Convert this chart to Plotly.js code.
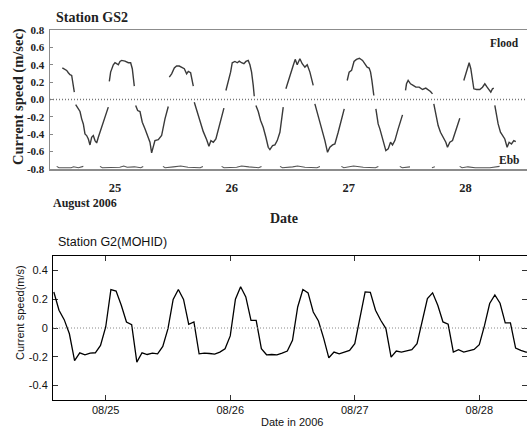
<!DOCTYPE html>
<html>
<head>
<meta charset="utf-8">
<script src="https://cdn.plot.ly/plotly-3.0.1.min.js"></script>
<style>html,body{margin:0;padding:0;background:#fff;}#chart{width:527px;height:428px;}</style>
</head>
<body>
<div id="chart"></div>
<script>
// ---- Observed (Station GS2), hours after 2006-08-25 00:00, null = gap
const obsHours = [
 -10.81,-10.40,-9.92,-9.58,-9.24,-8.89,-8.55,-8.35,null,
 -8.07,-7.53,-7.18,-6.84,-6.50,-6.16,-5.82,-5.47,-5.13,-4.79,-4.45,-4.10,-3.76,-3.42,-2.73,-2.05,-1.37,null,
 -1.16,-0.89,-0.34,0.00,0.34,0.69,1.03,1.37,2.06,2.74,3.22,3.56,3.97,null,
 4.25,4.66,5.14,5.61,6.16,6.71,7.19,7.53,7.87,8.21,8.90,9.58,10.27,10.95,null,
 11.16,11.64,12.19,12.66,13.21,13.69,14.24,14.72,15.06,15.54,16.09,null,
 16.29,16.77,17.45,18.14,18.82,19.30,19.71,20.20,20.73,21.42,21.90,22.38,null,
 22.79,23.27,23.75,24.09,24.64,25.12,25.53,26.00,26.48,26.90,27.37,27.72,28.06,28.40,28.61,null,
 28.95,29.43,29.91,30.45,31.00,31.48,31.82,32.37,32.85,33.33,33.88,34.56,null,
 35.11,35.59,36.07,36.61,37.02,37.43,37.98,38.46,39.01,39.49,40.04,40.72,null,
 41.06,41.54,42.09,42.64,43.12,43.66,44.14,44.69,45.17,45.85,46.54,47.09,null,
 47.70,48.10,48.60,49.10,49.60,50.20,50.85,51.33,51.80,52.20,52.50,52.77,53.17,null,
 53.59,54.06,54.41,54.75,55.23,55.64,56.12,56.60,57.01,57.49,58.17,59.06,null,
 59.68,59.88,60.22,60.70,61.25,61.80,62.48,63.17,63.85,64.33,64.81,65.22,null,
 65.49,65.90,66.38,66.86,67.41,67.96,68.30,68.78,69.33,69.81,70.28,70.83,null,
 71.65,72.06,72.41,72.75,73.09,73.43,73.71,74.25,74.94,75.49,75.97,76.44,76.86,77.20,77.54,77.81,null,
 78.02,78.36,78.70,79.18,79.59,80.07,80.55,80.96,81.44,81.92,82.33
];
const obsSpeed = [
 0.365,0.354,0.335,0.308,0.285,0.277,0.181,0.085,null,
 -0.058,-0.108,-0.138,-0.223,-0.281,-0.396,-0.415,-0.454,-0.523,-0.435,-0.415,-0.473,-0.500,-0.435,-0.319,-0.204,-0.088,null,
 0.208,0.315,0.400,0.423,0.412,0.400,0.438,0.450,0.442,0.423,0.423,0.354,0.154,null,
 -0.069,-0.127,-0.138,-0.262,-0.338,-0.435,-0.492,-0.615,-0.531,-0.473,-0.462,-0.415,-0.223,-0.081,null,
 0.258,0.296,0.362,0.385,0.385,0.373,0.354,0.296,0.323,0.308,0.154,null,
 -0.031,-0.127,-0.262,-0.370,-0.460,-0.538,-0.473,-0.492,-0.454,-0.300,-0.185,-0.100,null,
 0.104,0.200,0.315,0.423,0.438,0.423,0.442,0.423,0.412,0.438,0.450,0.400,0.315,0.162,0.038,null,
 -0.069,-0.138,-0.242,-0.319,-0.435,-0.550,-0.577,-0.531,-0.523,-0.473,-0.377,-0.088,null,
 0.123,0.219,0.315,0.392,0.462,0.400,0.469,0.412,0.373,0.400,0.315,0.162,null,
 -0.050,-0.146,-0.262,-0.377,-0.473,-0.608,-0.550,-0.523,-0.512,-0.377,-0.223,-0.108,null,
 0.219,0.315,0.335,0.438,0.462,0.475,0.450,0.412,0.373,0.362,0.315,0.219,0.046,null,
 -0.108,-0.281,-0.338,-0.415,-0.512,-0.588,-0.569,-0.492,-0.523,-0.473,-0.338,-0.177,null,
 0.104,0.181,0.219,0.181,0.162,0.142,0.142,0.115,0.131,0.115,0.092,0.065,null,
 -0.050,-0.185,-0.300,-0.377,-0.435,-0.492,-0.550,-0.492,-0.473,-0.396,-0.300,-0.215,null,
 0.219,0.296,0.373,0.423,0.354,0.219,0.123,0.115,0.115,0.142,0.181,0.142,0.104,0.085,0.123,0.131,null,
 -0.069,-0.204,-0.281,-0.377,-0.415,-0.454,-0.550,-0.492,-0.512,-0.473,-0.485
];
// ---- faint trace clipped at bottom of the GS2 panel
const baseHours = [
 -11.97,-11.5,-9.0,-8.5,-7.5,-6.5,null,
 -3.08,-2.6,1.0,1.8,2.5,4.0,5.3,5.81,null,
 9.85,10.3,12.0,13.5,15.0,17.5,18.07,null,
 21.9,22.4,25.0,26.0,27.5,29.5,30.1,null,
 33.9,34.4,36.5,37.5,39.0,41.5,42.1,null,
 46.5,47.0,49.0,51.0,53.5,54.1,null,
 58.5,59.0,60.6,null,
 65.1,65.7,null,
 70.8,71.3,72.5,74.0,77.0,78.4,79.0
];
const baseSpeed = [
 -0.77,-0.785,-0.785,-0.775,-0.785,-0.77,null,
 -0.77,-0.785,-0.78,-0.765,-0.78,-0.775,-0.785,-0.77,null,
 -0.77,-0.785,-0.775,-0.765,-0.78,-0.785,-0.77,null,
 -0.77,-0.785,-0.78,-0.765,-0.775,-0.785,-0.77,null,
 -0.77,-0.785,-0.775,-0.765,-0.78,-0.785,-0.77,null,
 -0.77,-0.785,-0.765,-0.78,-0.785,-0.77,null,
 -0.77,-0.785,-0.775,null,
 -0.785,-0.775,null,
 -0.77,-0.785,-0.775,-0.785,-0.785,-0.78,-0.77
];
// ---- Model (Station G2, MOHID), hourly, hours after 2006-08-25 00:00
const modelHours = [-10,-9,-8,-7,-6,-5,-4,-3,-2,-1,0,1,2,3,4,5,6,7,8,9,10,11,12,13,14,15,16,17,18,19,20,
 21,22,23,24,25,26,27,28,29,30,31,32,33,34,35,36,37,38,39,40,41,42,43,44,45,46,47,48,49,50,
 51,52,53,54,55,56,57,58,59,60,61,62,63,64,65,66,67,68,69,70,71,72,73,74,75,76,77,78,79,80,81,82];
const modelSpeed = [0.250,0.123,0.058,-0.040,-0.226,-0.172,-0.186,-0.174,-0.172,-0.121,
 0.007,0.267,0.256,0.158,0.042,0.023,-0.237,-0.172,-0.184,-0.174,
 -0.179,-0.128,-0.005,0.198,0.267,0.198,0.026,0.042,-0.179,-0.174,
 -0.177,-0.181,-0.167,-0.144,-0.055,0.200,0.286,0.216,0.053,0.053,
 -0.144,-0.186,-0.184,-0.186,-0.174,-0.160,-0.086,0.146,0.267,0.244,
 0.111,0.049,-0.070,-0.207,-0.167,-0.179,-0.167,-0.156,-0.109,0.077,
 0.251,0.248,0.123,0.054,-0.004,-0.202,-0.160,-0.167,-0.160,-0.151,
 -0.109,0.042,0.205,0.244,0.158,0.042,0.026,-0.167,-0.151,-0.167,
 -0.156,-0.149,-0.116,0.016,0.170,0.230,0.172,0.035,0.035,-0.140,
 -0.156,-0.167,-0.170];
const dayTicks = [25,26,27,28];
const topTickText = ['25','26','27','28'];
const botTickText = ['08/25','08/26','08/27','08/28'];
const topYTicks = [-0.8,-0.6,-0.4,-0.2,0,0.2,0.4,0.6,0.8];
const topYText = ['-0.8','-0.6','-0.4','-0.2','0.0','0.2','0.4','0.6','0.8'];
const botYTicks = [-0.4,-0.2,0,0.2,0.4];
const botYText = ['-0.4','-0.2','0','0.2','0.4'];

const toDay = h => (h === null ? null : 25 + h / 24);
const W = 527, H = 428;
const px = v => v / W, py = v => 1 - v / H;
const serif = 'Liberation Serif, Times New Roman, serif';
const sans = 'Liberation Sans, Arial, sans-serif';

const traces = [
  {x: obsHours.map(toDay), y: obsSpeed, xaxis: 'x', yaxis: 'y', mode: 'lines',
   line: {color: '#3a3a3a', width: 1.4}, connectgaps: false, hoverinfo: 'skip'},
  {x: baseHours.map(toDay), y: baseSpeed, xaxis: 'x', yaxis: 'y', mode: 'lines',
   line: {color: '#555', width: 1.1}, connectgaps: false, hoverinfo: 'skip'},
  {x: modelHours.map(toDay), y: modelSpeed, xaxis: 'x2', yaxis: 'y2', mode: 'lines',
   line: {color: '#000', width: 1.3}, hoverinfo: 'skip'}
];

const layout = {
  width: W, height: H, margin: {l: 0, r: 0, t: 0, b: 0},
  paper_bgcolor: '#fff', plot_bgcolor: '#fff', showlegend: false,
  xaxis: {domain: [px(50), px(526.5)], range: [24.444, 28.522], anchor: 'y',
    tickvals: dayTicks, ticktext: topTickText, ticks: '', showgrid: false, zeroline: false,
    showline: true, mirror: true, linecolor: '#8c8c8c', linewidth: 1.5,
    tickfont: {family: serif, size: 12.5, color: '#222', weight: 'bold'}, ticklabelstandoff: 6},
  yaxis: {domain: [py(169), py(30)], range: [-0.8, 0.8], anchor: 'x',
    tickvals: topYTicks, ticktext: topYText, ticks: 'inside', ticklen: 3, tickcolor: '#888',
    showgrid: false, zeroline: false, showline: true, mirror: true, linecolor: '#8c8c8c', linewidth: 1.5,
    tickfont: {family: serif, size: 11, color: '#222', weight: 'bold'}, ticklabelstandoff: 2},
  xaxis2: {domain: [px(53), 1], range: [24.5767, 28.3831], anchor: 'y2',
    tickvals: dayTicks, ticktext: botTickText, ticks: 'inside', ticklen: 5, tickcolor: '#000', tickwidth: 0.8,
    showgrid: false, zeroline: false, showline: true, mirror: 'ticks', linecolor: '#000', linewidth: 1,
    tickfont: {family: sans, size: 11, color: '#111'}},
  yaxis2: {domain: [py(400), py(256)], range: [-0.5, 0.5], anchor: 'x2',
    tickvals: botYTicks, ticktext: botYText, ticks: 'inside', ticklen: 5, tickcolor: '#000', tickwidth: 0.8,
    showgrid: false, zeroline: false, showline: true, mirror: 'ticks', linecolor: '#000', linewidth: 1,
    tickfont: {family: sans, size: 11, color: '#111'}, ticklabelstandoff: 2},
  shapes: [
    {type: 'line', xref: 'x domain', yref: 'y', x0: 0, x1: 1, y0: 0, y1: 0,
     line: {color: '#777', width: 1.3, dash: '1px,2px'}},
    {type: 'line', xref: 'x2 domain', yref: 'y2', x0: 0, x1: 1, y0: 0, y1: 0,
     line: {color: '#888', width: 1, dash: '1px,2px'}}
  ],
  annotations: [
    {text: 'Station GS2', x: px(55), y: py(18), xanchor: 'left', yanchor: 'middle',
     font: {family: serif, size: 14, color: '#222', weight: 'bold'}},
    {text: 'Current speed (m/sec)', x: px(19), y: py(97), textangle: -90, xanchor: 'center', yanchor: 'middle',
     font: {family: serif, size: 14.5, color: '#222', weight: 'bold'}},
    {text: 'August 2006', x: px(52), y: py(202.5), xanchor: 'left', yanchor: 'middle',
     font: {family: serif, size: 12, color: '#222', weight: 'bold'}},
    {text: 'Date', x: px(284), y: py(218), xanchor: 'center', yanchor: 'middle',
     font: {family: serif, size: 14, color: '#222', weight: 'bold'}},
    {text: 'Flood', x: px(520), y: py(43), xanchor: 'right', yanchor: 'middle',
     font: {family: serif, size: 11.5, color: '#222', weight: 'bold'}},
    {text: 'Ebb', x: px(520), y: py(160), xanchor: 'right', yanchor: 'middle',
     font: {family: serif, size: 11.5, color: '#222', weight: 'bold'}},
    {text: 'Station G2(MOHID)', x: px(57), y: py(242), xanchor: 'left', yanchor: 'middle',
     font: {family: sans, size: 12.5, color: '#111'}},
    {text: 'Current speed(m/s)', x: px(19.5), y: py(312.5), textangle: -90, xanchor: 'center', yanchor: 'middle',
     font: {family: sans, size: 11, color: '#111'}},
    {text: 'Date in 2006', x: px(291.7), y: py(421.7), xanchor: 'center', yanchor: 'middle',
     font: {family: sans, size: 11, color: '#111'}}
  ].map(a => Object.assign({xref: 'paper', yref: 'paper', showarrow: false, borderpad: 0}, a))
};

Plotly.newPlot('chart', traces, layout, {staticPlot: true, displayModeBar: false});
</script>
</body>
</html>
